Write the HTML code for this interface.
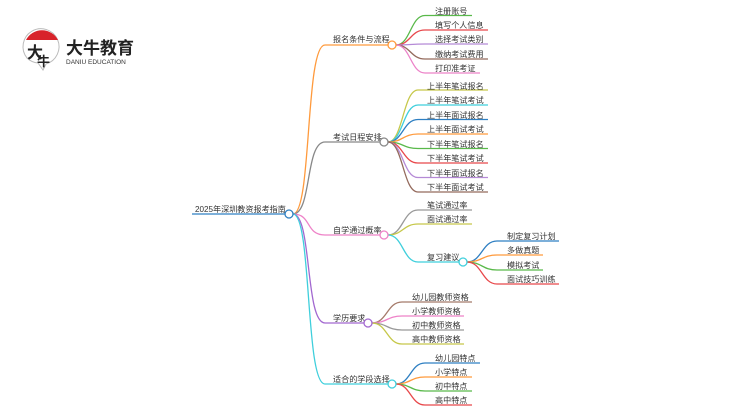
<!DOCTYPE html>
<html><head><meta charset="utf-8"><style>
body{margin:0;background:#fff;width:750px;height:410px;overflow:hidden}
svg text{font-family:"Liberation Sans","Noto Sans CJK SC",sans-serif;font-size:8.1px;fill:#333}
</style></head><body>
<svg id="s" width="750" height="410" xmlns="http://www.w3.org/2000/svg">
<g id="lines"></g>
<g>
<path d="M27 58 A18 18 0 1 1 46 64 L43 70 L38 63 A18 18 0 0 1 27 58Z" fill="#fff" stroke="#bbb" stroke-width="1"/>
<path d="M26 40 A18 18 0 0 1 58 40 Z" fill="#d8232a"/>
<text x="27" y="58" style="font-size:16px;fill:#222;font-weight:bold">大</text>
<text x="37" y="66" style="font-size:13px;fill:#222;font-weight:bold">牛</text>
<text x="66" y="54" style="font-size:17px;fill:#222;font-weight:bold">大牛教育</text>
<text x="66" y="64" style="font-size:6.5px;fill:#333">DANIU EDUCATION</text>
</g>
<text x="195" y="212">2025年深圳教资报考指南</text>
<text x="333" y="42">报名条件与流程</text>
<text x="333" y="140">考试日程安排</text>
<text x="333" y="233">自学通过概率</text>
<text x="333" y="321">学历要求</text>
<text x="333" y="382">适合的学段选择</text>
<text x="435" y="14">注册账号</text>
<text x="435" y="28">填写个人信息</text>
<text x="435" y="42">选择考试类别</text>
<text x="435" y="57">缴纳考试费用</text>
<text x="435" y="71">打印准考证</text>
<text x="427" y="89">上半年笔试报名</text>
<text x="427" y="103">上半年笔试考试</text>
<text x="427" y="118">上半年面试报名</text>
<text x="427" y="132">上半年面试考试</text>
<text x="427" y="147">下半年笔试报名</text>
<text x="427" y="161">下半年笔试考试</text>
<text x="427" y="176">下半年面试报名</text>
<text x="427" y="190">下半年面试考试</text>
<text x="427" y="208">笔试通过率</text>
<text x="427" y="222">面试通过率</text>
<text x="427" y="260">复习建议</text>
<text x="507" y="239">制定复习计划</text>
<text x="507" y="253">多做真题</text>
<text x="507" y="268">模拟考试</text>
<text x="507" y="282">面试技巧训练</text>
<text x="412" y="300">幼儿园教师资格</text>
<text x="412" y="314">小学教师资格</text>
<text x="412" y="328">初中教师资格</text>
<text x="412" y="342">高中教师资格</text>
<text x="435" y="361">幼儿园特点</text>
<text x="435" y="375">小学特点</text>
<text x="435" y="389">初中特点</text>
<text x="435" y="403">高中特点</text>
<g id="circ"></g>
</svg>
<script>
var L=document.getElementById('lines'),C=document.getElementById('circ');
function p(d,c){var e=document.createElementNS('http://www.w3.org/2000/svg','path');e.setAttribute('d',d);e.setAttribute('stroke',c);e.setAttribute('fill','none');e.setAttribute('stroke-width','1.3');L.appendChild(e);}
function ci(x,y,c){var e=document.createElementNS('http://www.w3.org/2000/svg','circle');e.setAttribute('cx',x);e.setAttribute('cy',y);e.setAttribute('r',4);e.setAttribute('fill','#fff');e.setAttribute('stroke',c);e.setAttribute('stroke-width','1.3');C.appendChild(e);}
function br(x0,y0,x1,y1,x2,c){var m=(x0+x1)/2;p('M'+x0+' '+y0+' C'+m+' '+y0+' '+m+' '+y1+' '+x1+' '+y1+' L'+x2+' '+y1,c);}
p('M192 214 L285 214','#2e7fc2');
var rx=293,ry=214;
function rb(y,cx,c){p('M'+rx+' '+ry+' C312 '+ry+' 305 '+y+' 325 '+y+' L'+(cx-4)+' '+y,c);ci(cx,y,c);}
rb(45,392,'#ff9a3c');rb(142,384,'#888');rb(235,384,'#ee82c8');rb(323,368,'#a268d0');rb(384,392,'#3fcfdc');
ci(289,214,'#2e7fc2');
[[15.5,472,'#59b94a'],[30,488,'#e8484b'],[44,488,'#b58ad6'],[59,488,'#946a5c'],[73,480,'#ec82c8']].forEach(function(a){br(396,45,425,a[0],a[1],a[2]);});
[[90,'#c6c84a'],[105,'#3fcfdc'],[119.5,'#2e7fc2'],[134,'#ff9a3c'],[148.5,'#59b94a'],[163,'#e8484b'],[177.5,'#b58ad6'],[192,'#946a5c']].forEach(function(a){br(388,142,418,a[0],488,a[1]);});
br(388,235,418,210,472,'#999');br(388,235,418,224,472,'#c6c84a');br(388,235,418,262,459,'#3fcfdc');ci(463,262,'#3fcfdc');
[[241,559,'#2e7fc2'],[255,543,'#ff9a3c'],[270,543,'#59b94a'],[284,559,'#e8484b']].forEach(function(a){br(467,262,497,a[0],a[1],a[2]);});
[[302,472,'#a57a6a'],[316,464,'#ee82c8'],[330,464,'#999'],[344,464,'#c6c84a']].forEach(function(a){br(372,323,402,a[0],a[1],a[2]);});
[[363,480,'#2e7fc2'],[377,472,'#ff9a3c'],[391,472,'#59b94a'],[405,472,'#e8484b']].forEach(function(a){br(396,384,425,a[0],a[1],a[2]);});
</script>
</body></html>
